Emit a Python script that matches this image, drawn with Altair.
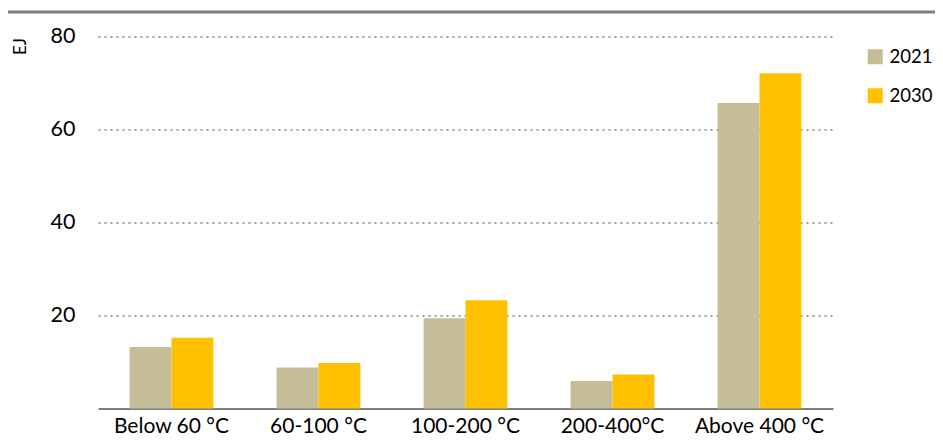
import altair as alt
import pandas as pd

categories = ["Below 60 °C", "60-100 °C", "100-200 °C", "200-400°C", "Above 400 °C"]
values_2021 = [13.2, 8.8, 19.4, 5.9, 65.7]
values_2030 = [15.2, 9.8, 23.3, 7.3, 72.1]
years = ["2021", "2030"]
colors = ["#C4BD97", "#FFC000"]
y_ticks = [20, 40, 60, 80]

rows = []
for c, a, b in zip(categories, values_2021, values_2030):
    rows.append({"cat": c, "year": years[0], "value": a})
    rows.append({"cat": c, "year": years[1], "value": b})
df = pd.DataFrame(rows)

FONT = "Lato"

bars = alt.Chart(df).mark_bar().encode(
    x=alt.X("cat:N", sort=categories, title=None,
            scale=alt.Scale(paddingInner=0.43, paddingOuter=0.215),
            axis=alt.Axis(labelAngle=0, labelFontSize=21, labelFont=FONT, labelColor="#000000",
                          labelPadding=6.5, ticks=False, domainColor="#000000", domainWidth=1.2,
                          grid=False)),
    xOffset=alt.XOffset("year:N", sort=years),
    y=alt.Y("value:Q", scale=alt.Scale(domain=[0, 80], nice=False),
            axis=alt.Axis(values=y_ticks, title="EJ", titleAngle=-90, titleX=-78, titleY=9.5,
                          titleAlign="center", titleBaseline="middle", titleFontSize=17,
                          titleFont=FONT, titleFontWeight="normal", titleColor="#000000",
                          labelFontSize=21.5, labelFont=FONT, labelColor="#000000", labelPadding=23,
                          domain=False, ticks=False, grid=True, gridColor="#7f7f7f",
                          gridDash=[2, 4], gridWidth=1.5)),
    color=alt.Color("year:N", sort=years, scale=alt.Scale(domain=years, range=colors),
                    legend=alt.Legend(title=None, orient="none", legendX=768, legendY=11,
                                      symbolType="square", symbolSize=225, symbolStrokeWidth=0,
                                      labelFontSize=18.5, labelFont=FONT, labelColor="#000000",
                                      labelOffset=5, rowPadding=20, padding=0)),
)

top_rule = alt.Chart(pd.DataFrame({"k": [0]})).mark_rule(color="#7f7f7f", strokeWidth=3).encode(
    x=alt.value(-98), x2=alt.value(845), y=alt.value(-24.5)
)

chart = alt.layer(bars, top_rule).properties(
    width=735, height=372,
    autosize=alt.AutoSizeParams(type="none"),
    padding={"left": 90, "top": 28.5, "right": 102, "bottom": 26.5},
).configure_view(stroke=None)

chart.save("out.html", embed_options={"renderer": "svg", "actions": False})
